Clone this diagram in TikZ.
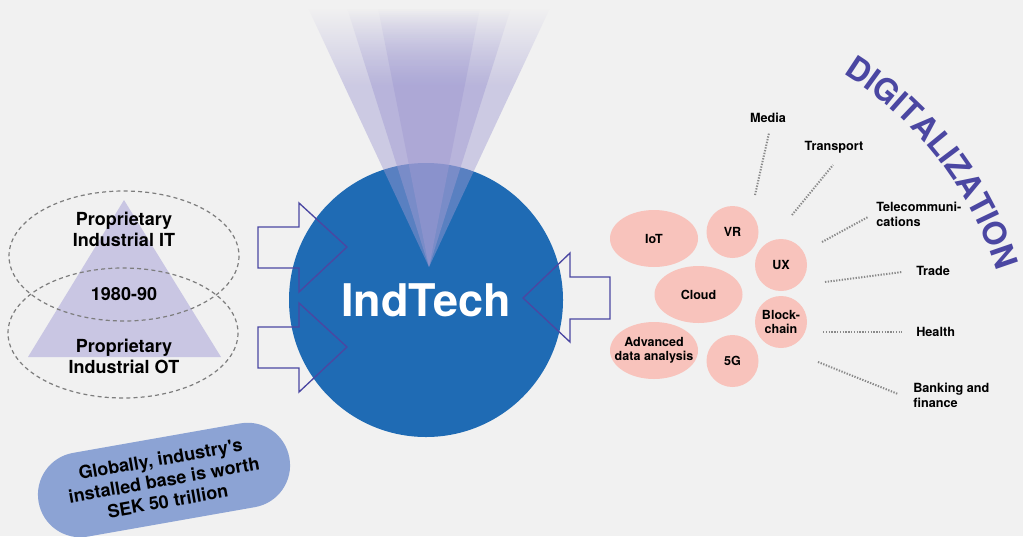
\documentclass[tikz,border=0pt]{standalone}
\usepackage{fontspec}
\setmainfont{TeX Gyre Heros}
\usepackage{xcolor}
\usetikzlibrary{shapes.geometric, decorations.text, fadings}

\definecolor{bgGray}{HTML}{F1F1F1}
\definecolor{hubBlue}{HTML}{1F6BB4}
\definecolor{beamLav}{HTML}{A09BD2}
\definecolor{pyrLav}{HTML}{C9C6E3}
\definecolor{edgePurple}{HTML}{4B47A2}
\definecolor{pillBlue}{HTML}{8CA3D4}
\definecolor{bubblePink}{HTML}{F8C3BC}
\definecolor{ringGray}{HTML}{7D7D7D}
\definecolor{spokeGray}{HTML}{8A8A8A}

\tikzset{
    layer/.style={font=\bfseries\fontsize{13.5}{15.75}\selectfont, align=center, inner sep=0.75pt},
    ring/.style={draw=ringGray, line width=0.9pt, dash pattern=on 3pt off 2.4pt},
    hub/.style={circle, fill=hubBlue, minimum size=205.5pt, inner sep=0pt, text=white, font=\bfseries\fontsize{33.75}{40}\selectfont},
    pill/.style={rectangle, fill=pillBlue, rounded corners=31.8pt, minimum width=191pt, minimum height=63.75pt, rotate=10, align=center, font=\bfseries\fontsize{13.5}{16}\selectfont},
    beam/.style={fill=beamLav, fill opacity=0.45},
    blockarrow/.style={draw=edgePurple, line width=1pt, line join=miter},
    bubble/.style={ellipse, fill=bubblePink, inner sep=-8pt, align=center, font=\bfseries\fontsize{9.4}{10.5}\selectfont},
    oval/.style={bubble, minimum width=66pt, minimum height=42.75pt},
    roundbub/.style={bubble, minimum width=39pt, minimum height=39pt},
    sector/.style={font=\bfseries\fontsize{9.5}{11.25}\selectfont, inner sep=0.75pt, align=left},
    spoke/.style={draw=spokeGray, line width=1.5pt, dash pattern=on 1pt off 1.1pt},
}

\begin{document}
\begin{tikzpicture}[x=0.75pt,y=0.75pt,yscale=-1,xscale=1]
    \useasboundingbox (0,0) rectangle (1023,536);
    \fill[bgGray] (0,0) rectangle (1023,536);

    % Pyramid with the two dashed rings
    \fill[pyrLav] (124,200) -- (28,357) -- (221,357) -- cycle;
    \draw[ring] (124,256) ellipse (115 and 65);
    \draw[ring] (123,333) ellipse (115 and 65);
    % Text Node
    \node[layer] (propIT) at (124,229) {Proprietary\\Industrial IT};
    % Text Node
    \node[layer] (era) at (124,294) {1980-90};
    % Text Node
    \node[layer] (propOT) at (124,356) {Proprietary\\Industrial OT};

    % Installed base pill
    \node[pill] (base) at (164,480) {Globally, industry\textquotesingle s\\installed base is worth\\SEK 50 trillion};

    % Hub
    \node[hub] (indtech) at (426,300) {IndTech};

    % Light beams
    \foreach \w in {121,82,51}{
        \fill[beam, path fading=north] ({429-\w},8) -- ({429+\w},8) -- ({429+0.703*\w},85) -- ({429-0.703*\w},85) -- cycle;
        \fill[beam] ({429-0.703*\w},85) -- ({429+0.703*\w},85) -- (429,267) -- cycle;
    }

    % Block arrows
    \foreach \dy in {0,100}{
        \draw[blockarrow, shift={(0,\dy)}] (258,227) -- (299,227) -- (299,203) -- (347,247) -- (299,292) -- (299,268) -- (258,268) -- cycle;
    }
    \draw[blockarrow] (610,277) -- (570,277) -- (570,253) -- (523,298) -- (570,342) -- (570,319) -- (610,319) -- cycle;

    % Technology bubbles
    \node[oval] (iot) at (654,238.5) {IoT};
    \node[roundbub] (vr) at (732.5,232) {VR};
    \node[roundbub] (ux) at (781,265) {UX};
    \node[oval] (cloud) at (698.5,294.5) {Cloud};
    \node[roundbub] (chain) at (781,322) {Block-\\chain};
    \node[oval] (analysis) at (654,350.5) {Advanced\\data analysis};
    \node[roundbub] (fiveg) at (732.5,361) {5G};

    % Sector labels
    \node[sector] (media) at (768,118) {Media};
    \node[sector] (transport) at (834,147) {Transport};
    \node[sector, anchor=west] (telecom) at (875,214) {Telecommuni-\\cations};
    \node[sector, anchor=west] (trade) at (915,271) {Trade};
    \node[sector, anchor=west] (health) at (915,332) {Health};
    \node[sector, anchor=west] (banking) at (912,395.5) {Banking and\\finance};

    % Dotted spokes
    \coordinate (mediaIn) at (755,195);
    \coordinate (mediaOut) at (769,133);
    \coordinate (transportIn) at (792,215);
    \coordinate (transportOut) at (833,165);
    \coordinate (telecomIn) at (822,242);
    \coordinate (telecomOut) at (868,217);
    \coordinate (tradeIn) at (825,282);
    \coordinate (tradeOut) at (902,272);
    \coordinate (healthIn) at (823,332);
    \coordinate (healthOut) at (902,332);
    \coordinate (bankingIn) at (818,362);
    \coordinate (bankingOut) at (898,394);
    \draw[spoke] (mediaIn) -- (mediaOut);
    \draw[spoke] (transportIn) -- (transportOut);
    \draw[spoke] (telecomIn) -- (telecomOut);
    \draw[spoke] (tradeIn) -- (tradeOut);
    \draw[spoke] (healthIn) -- (healthOut);
    \draw[spoke] (bankingIn) -- (bankingOut);

    % Curved heading
    \begin{scope}[shift={(657,376)}, yscale=-1]
        \path[decorate, decoration={text along path, text align=center, text color=edgePurple,
            text={|\bfseries\fontsize{24}{24}\selectfont|DIGITALIZATION}}] (62.75:355) arc (62.75:12.75:355);
    \end{scope}
\end{tikzpicture}
\end{document}
